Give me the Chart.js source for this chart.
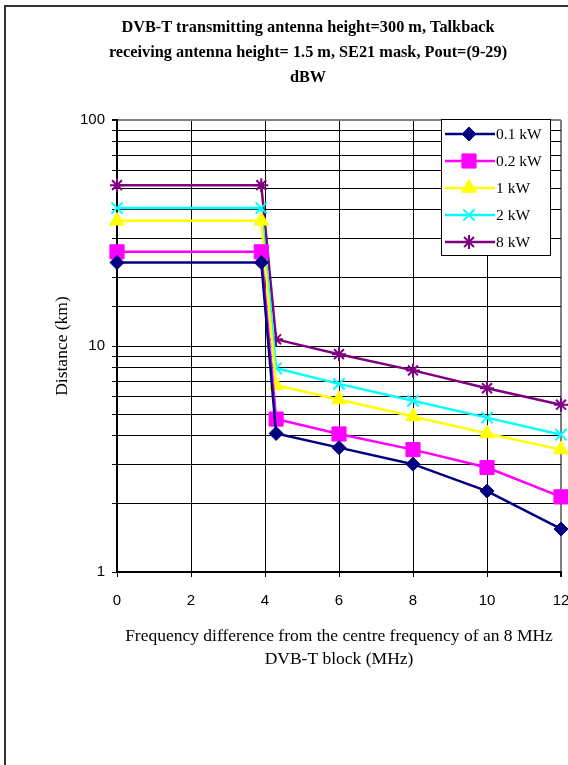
<!DOCTYPE html>
<html>
<head>
<meta charset="utf-8">
<title>DVB-T distance vs frequency offset</title>
<script src="https://cdn.jsdelivr.net/npm/chart.js@4"></script>
<style>
body{margin:0;background:#fff;overflow:hidden;}
.wrap{position:relative;width:568px;height:765px;}
canvas{position:absolute;left:0;top:0;}
.frame{position:absolute;left:4px;top:5px;width:600px;height:800px;border:2px solid #333;pointer-events:none;}
</style>
</head>
<body>
<div class="wrap">
<canvas id="chart" width="568" height="765"></canvas>
<div class="frame"></div>
</div>
<script>
// ================= DATA =================
const freqs = [0, 3.9, 4.3, 6, 8, 10, 12];
const kw01 = [23.4, 23.4, 4.1, 3.55, 3.0, 2.28, 1.55];
const kw02 = [26.1, 26.1, 4.75, 4.08, 3.48, 2.9, 2.15];
const kw1  = [35.8, 35.8, 6.7, 5.8, 4.88, 4.1, 3.48];
const kw2  = [40.8, 40.8, 7.97, 6.8, 5.72, 4.82, 4.05];
const kw8  = [51.5, 51.5, 10.7, 9.2, 7.8, 6.5, 5.5];

const seriesNames = ['0.1 kW', '0.2 kW', '1 kW', '2 kW', '8 kW'];
const yLabelValues = [1, 10, 100];

const titleLines = [
  'DVB-T transmitting antenna height=300 m, Talkback',
  'receiving antenna height= 1.5 m, SE21 mask, Pout=(9-29)',
  'dBW'
];
const xTitle = [
  'Frequency difference from the centre frequency of an 8 MHz',
  'DVB-T block (MHz)'
];
const yTitle = 'Distance (km)';

// ================= STYLE =================
const SERIF = '"Liberation Serif", "Times New Roman", serif';
const SANS = '"Liberation Sans", Arial, sans-serif';

const looks = [
  {color:'#000080', style:'rectRot', r:7},
  {color:'#ff00ff', style:'rect', r:10},
  {color:'#ffff00', style:'triangle', r:8.5},
  {color:'#00ffff', style:'crossRot', r:8},
  {color:'#800080', style:'star', r:7}
];

function toPoints(arr){
  return arr.map((v,i)=>({x:freqs[i], y:v}));
}

const values = [kw01, kw02, kw1, kw2, kw8];

const datasets = values.map((arr,i)=>({
  label: seriesNames[i],
  data: toPoints(arr),
  borderColor: looks[i].color,
  backgroundColor: looks[i].color,
  borderWidth: 2.5,
  pointStyle: looks[i].style,
  pointRadius: looks[i].r,
  pointBorderWidth: (looks[i].style==='crossRot'||looks[i].style==='star') ? 2 : 1,
  pointBackgroundColor: looks[i].color,
  pointBorderColor: looks[i].color,
  tension: 0,
  clip: false
}));

// ================= PLUGINS =================
const titlePlugin = {
  id:'topTitle',
  afterDraw(chart){
    const ctx = chart.ctx;
    ctx.save();
    ctx.fillStyle = '#000';
    ctx.font = 'bold 16.3px ' + SERIF;
    ctx.textAlign = 'center';
    ctx.textBaseline = 'middle';
    titleLines.forEach((t,i)=>ctx.fillText(t, 308, 27.5 + i*25));
    ctx.restore();
  }
};

const boxLegend = {
  id:'boxLegend',
  afterDraw(chart){
    const ctx = chart.ctx;
    const x0 = 441, y0 = 119, w = 109, h = 136;
    ctx.save();
    ctx.fillStyle = '#fff';
    ctx.fillRect(x0, y0, w, h);
    ctx.strokeStyle = '#000';
    ctx.lineWidth = 1;
    ctx.strokeRect(x0 + 0.5, y0 + 0.5, w, h);
    ctx.font = '15.5px ' + SERIF;
    ctx.textBaseline = 'middle';
    ctx.textAlign = 'left';
    seriesNames.forEach((name,i)=>{
      const y = 134 + i*27;
      const lk = looks[i];
      ctx.strokeStyle = lk.color;
      ctx.lineWidth = 2.5;
      ctx.beginPath();
      ctx.moveTo(445, y);
      ctx.lineTo(495, y);
      ctx.stroke();
      ctx.fillStyle = lk.color;
      ctx.lineWidth = (lk.style==='crossRot'||lk.style==='star') ? 2 : 1;
      if (Chart.helpers && Chart.helpers.drawPoint) {
        Chart.helpers.drawPoint(ctx, {pointStyle:lk.style, radius:lk.r, rotation:0, borderWidth:ctx.lineWidth}, 469, y);
      }
      ctx.fillStyle = '#000';
      ctx.fillText(name, 496, y + 1);
    });
    ctx.restore();
  }
};

// ================= CHART =================
new Chart(document.getElementById('chart'), {
  type:'line',
  data:{datasets:datasets},
  options:{
    responsive:false,
    animation:false,
    devicePixelRatio:1,
    layout:{autoPadding:false, padding:{left:0, right:7, top:120, bottom:93.5}},
    plugins:{legend:{display:false}, title:{display:false}, tooltip:{enabled:false}},
    scales:{
      x:{
        type:'linear',
        min:0, max:12,
        afterFit(scale){ scale.height = 99.5; scale.paddingLeft = 0; scale.paddingRight = 0; },
        ticks:{stepSize:2, color:'#000', font:{family:SANS, size:15}, padding:15, maxRotation:0},
        grid:{
          color:c=>(c.tick && c.tick.value===12) ? '#808080' : '#000',
          lineWidth:c=>(c.tick && c.tick.value===12) ? 2 : 1,
          tickLength:5,
          tickColor:'#000'
        },
        border:{display:true, color:'#000', width:2},
        title:{display:true, text:xTitle, color:'#000', font:{family:SERIF, size:17.5, lineHeight:1.35}, padding:{top:0, bottom:0}}
      },
      y:{
        type:'logarithmic',
        min:1, max:100,
        afterFit(scale){ scale.width = 117; },
        ticks:{
          autoSkip:false,
          color:'#000',
          font:{family:SANS, size:15},
          padding:7,
          callback:v=>{
            const l = Math.log10(v);
            return Math.abs(l - Math.round(l)) < 1e-6 && yLabelValues.includes(Math.round(v)) ? String(Math.round(v)) : '';
          }
        },
        grid:{
          color:c=>(c.tick && c.tick.value===100) ? '#808080' : '#000',
          lineWidth:c=>(c.tick && c.tick.value===100) ? 2 : 1,
          tickLength:5,
          tickColor:'#000'
        },
        border:{display:true, color:'#000', width:2},
        title:{display:true, text:yTitle, color:'#000', font:{family:SERIF, size:17.5, lineHeight:1.2}, padding:{top:52, bottom:0}}
      }
    }
  },
  plugins:[titlePlugin, boxLegend]
});
</script>
</body>
</html>
